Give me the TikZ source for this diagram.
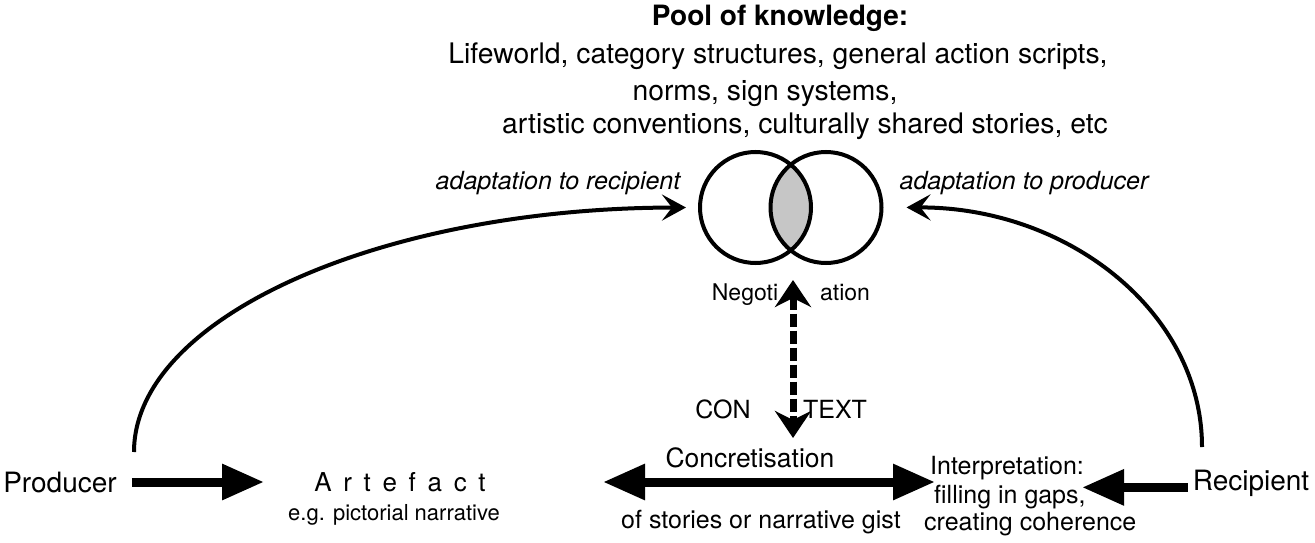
\documentclass[tikz,border=0pt]{standalone}
\usepackage{fontspec}
\setmainfont{TeX Gyre Heros}
\usetikzlibrary{arrows.meta}

\begin{document}
\begin{tikzpicture}[x=1pt,y=-1pt]
	\tikzstyle{txt} = [inner sep=0pt, font=\fontsize{25}{30}\selectfont]
	\tikzstyle{toptxt} = [inner sep=0pt, anchor=base, font=\fontsize{28.3}{32}\selectfont]
	\tikzstyle{bigtxt} = [inner sep=0pt, font=\fontsize{28}{32}\selectfont]
	\tikzstyle{ring} = [draw, circle, line width=4pt, minimum size=111pt, inner sep=0pt]
	\tikzstyle{fat} = [line width=9pt, -{Triangle[length=42pt,width=34pt]}]
	\tikzstyle{curvy} = [line width=4pt, -{Stealth[length=24pt,width=26pt,inset=10pt]}]
	\useasboundingbox (0,0) rectangle (1315,543);

	\node[toptxt, font=\bfseries\fontsize{28}{32}\selectfont] (pool) at (780,26) {Pool of knowledge:};
	\node[toptxt] (pool1) at (778,64) {Lifeworld, category structures, general action scripts,};
	\node[toptxt] (pool2) at (765,100) {norms, sign systems,};
	\node[toptxt] (pool3) at (805,133) {artistic conventions, culturally shared stories, etc};

	\begin{scope}
		\clip (755.5,207.5) circle (55.5pt);
		\fill[gray!45] (826,207.5) circle (55.5pt);
	\end{scope}
	\node[ring] (lcirc) at (755.5,207.5) {};
	\node[ring] (rcirc) at (826,207.5) {};

	\node[txt, anchor=base, font=\itshape\fontsize{25}{28}\selectfont] (adrec) at (558,189) {adaptation to recipient};
	\node[txt, anchor=base, font=\itshape\fontsize{25}{28}\selectfont] (adprod) at (1024,189) {adaptation to producer};
	\node[txt, anchor=base, font=\fontsize{23}{28}\selectfont] (negoti) at (745,300) {Negoti};
	\node[txt, anchor=base, font=\fontsize{23}{28}\selectfont] (ation) at (845,300) {ation};
	\node[txt, anchor=base] (con) at (723,418) {CON};
	\node[txt, anchor=base] (text) at (835,418) {TEXT};

	\node[bigtxt] (producer) at (60,482) {Producer};
	\node[txt, font=\fontsize{26}{30}\selectfont] (artefact) at (400,482) {\spaceskip=0.45em A r t e f a c t};
	\node[txt, anchor=base, font=\fontsize{22}{26}\selectfont] (eg) at (394,520) {e.g. pictorial narrative};
	\node[txt, anchor=base, font=\fontsize{26.5}{30}\selectfont] (concr) at (750,467) {Concretisation};
	\node[txt, anchor=base] (stories) at (761,528) {of stories or narrative gist};
	\node[txt, anchor=base west] (interp1) at (930,474) {Interpretation:};
	\node[txt, anchor=base west] (interp2) at (934,503) {filling in gaps,};
	\node[txt, anchor=base west] (interp3) at (924,530) {creating coherence};
	\node[bigtxt, anchor=base] (recipient) at (1251,490) {Recipient};

	\coordinate (conl) at (603,482);
	\coordinate (conr) at (935,482);
	\coordinate (gap) at (1082,482);
	\coordinate (negtip) at (793,280);
	\coordinate (contip) at (793,438);
	\coordinate (produp) at (134,452);
	\coordinate (recup) at (1202,447);

	\draw[fat, shorten <=15pt, shorten >=50pt] (producer) -- (artefact);
	\draw[line width=9pt, {Triangle[length=42pt,width=34pt]}-{Triangle[length=42pt,width=34pt]}] (conl) -- (conr);
	\draw[fat, shorten <=5pt] (recipient.mid west) -- (gap |- recipient.mid west);
	\draw[line width=7pt, dash pattern=on 13pt off 4pt, {Stealth[length=27pt,width=36pt,inset=9pt]}-{Stealth[length=27pt,width=36pt,inset=9pt]}] (negtip) -- (contip);
	\draw[curvy, shorten >=12pt] (produp) .. controls (134,317) and (382,208) .. (lcirc.west);
	\draw[curvy, shorten >=23pt] (recup) .. controls (1202,313) and (1069,207) .. (rcirc.east);
\end{tikzpicture}
\end{document}
